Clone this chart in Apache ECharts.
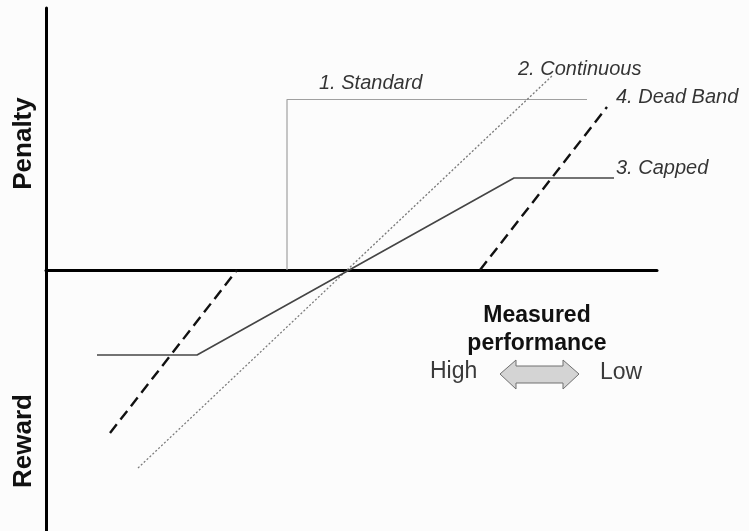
<!DOCTYPE html>
<html>
<head>
<meta charset="utf-8">
<script src="https://cdn.jsdelivr.net/npm/echarts@6/dist/echarts.min.js"></script>
<style>
  html, body { margin: 0; padding: 0; background: #fcfcfc; }
  #chart { width: 749px; height: 531px; }
</style>
</head>
<body>
<div id="chart"></div>
<script>
// Penalty / reward schemes versus measured performance (arbitrary units).
// x: measured performance relative to target (left = high, right = low)
// y: penalty (positive) or reward (negative)
const standardScheme   = [[-1.2, 0], [-1.2, 3.41], [4.8, 3.41]];
const continuousScheme = [[-4.18, -3.96], [4.12, 3.9]];
const cappedScheme     = [[-5.0, -1.7], [-3.0, -1.7], [3.34, 1.84], [5.34, 1.84]];
const deadBandReward   = [[-4.74, -3.26], [-2.2, 0]];
const deadBandPenalty  = [[2.66, 0], [5.2, 3.26]];
const schemeNames = ['1. Standard', '2. Continuous', '3. Capped', '4. Dead Band'];

const chart = echarts.init(document.getElementById('chart'), null, { renderer: 'canvas' });

const lineSeries = (name, data, lineStyle) => ({
  name, type: 'line', data, symbol: 'none', silent: true,
  lineStyle, z: 3
});

const labelFont = { fontFamily: 'Liberation Sans, Arial, sans-serif', fontStyle: 'italic', fontSize: 20, color: '#000' };

chart.setOption({
  animation: false,
  backgroundColor: '#fcfcfc',
  grid: { left: 46, right: 92, top: 8, bottom: 0, containLabel: false },
  xAxis: {
    type: 'value', min: -6.02, max: 6.2,
    axisLine: { show: true, onZero: true, lineStyle: { color: '#000', width: 3 } },
    axisTick: { show: false }, axisLabel: { show: false }, splitLine: { show: false }
  },
  yAxis: {
    type: 'value', min: -5.22, max: 5.24,
    axisLine: { show: true, onZero: false, lineStyle: { color: '#000', width: 3 } },
    axisTick: { show: false }, axisLabel: { show: false }, splitLine: { show: false }
  },
  series: [
    lineSeries(schemeNames[0], standardScheme, { color: '#a0a0a0', width: 1.2 }),
    lineSeries(schemeNames[1], continuousScheme, { color: '#7a7a7a', width: 1.3, type: [2, 2] }),
    lineSeries(schemeNames[2], cappedScheme, { color: '#454545', width: 1.6 }),
    lineSeries(schemeNames[3], deadBandReward, { color: '#111', width: 2.4, type: [11, 6] }),
    lineSeries(schemeNames[3], deadBandPenalty, { color: '#111', width: 2.4, type: [11, 6] }),
    {
      // scheme name tags placed next to their curves
      type: 'scatter', symbolSize: 0, silent: true, z: 4,
      label: { show: true, position: 'right', distance: 0, formatter: p => p.name, ...labelFont },
      data: [
        { name: schemeNames[0], value: [-0.56, 3.74] },
        { name: schemeNames[1], value: [3.42, 4.02] },
        { name: schemeNames[3], value: [5.38, 3.46] },
        { name: schemeNames[2], value: [5.38, 2.04] }
      ]
    }
  ],
  graphic: [
    { type: 'text', x: 24, y: 143.5, rotation: Math.PI / 2,
      style: { text: 'Penalty', font: 'bold 26px "Liberation Sans", Arial, sans-serif', fill: '#111', align: 'center', verticalAlign: 'middle' } },
    { type: 'text', x: 24, y: 441, rotation: Math.PI / 2,
      style: { text: 'Reward', font: 'bold 26px "Liberation Sans", Arial, sans-serif', fill: '#111', align: 'center', verticalAlign: 'middle' } },
    { type: 'text', x: 537, y: 316,
      style: { text: 'Measured', font: 'bold 23px "Liberation Sans", Arial, sans-serif', fill: '#111', align: 'center', verticalAlign: 'middle' } },
    { type: 'text', x: 537, y: 344,
      style: { text: 'performance', font: 'bold 23px "Liberation Sans", Arial, sans-serif', fill: '#111', align: 'center', verticalAlign: 'middle' } },
    { type: 'text', x: 430, y: 372,
      style: { text: 'High', font: '23px "Liberation Sans", Arial, sans-serif', fill: '#3a3a3a', align: 'left', verticalAlign: 'middle' } },
    { type: 'text', x: 600, y: 373,
      style: { text: 'Low', font: '23px "Liberation Sans", Arial, sans-serif', fill: '#3a3a3a', align: 'left', verticalAlign: 'middle' } },
    { type: 'polygon',
      shape: { points: [[500, 374], [516, 360], [516, 366], [563, 366], [563, 360], [579, 374], [563, 389], [563, 383], [516, 383], [516, 389]] },
      style: { fill: '#d4d4d4', stroke: '#707070', lineWidth: 1 } }
  ]
});
</script>
</body>
</html>
